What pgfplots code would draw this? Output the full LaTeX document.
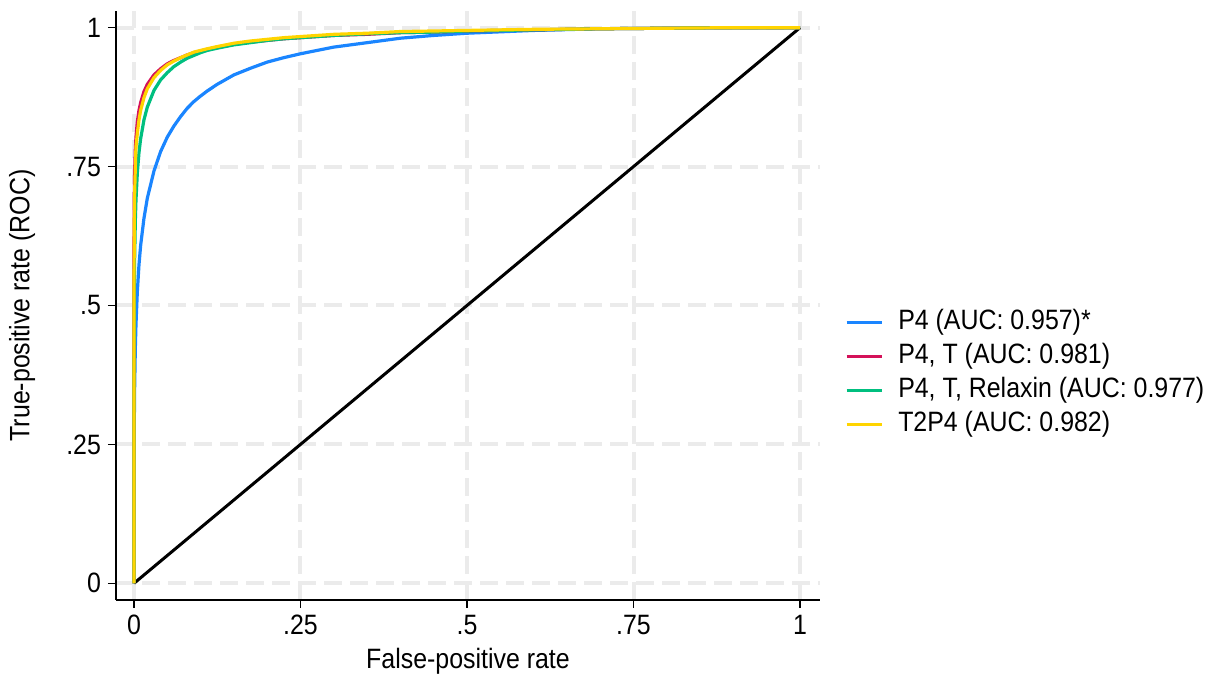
\documentclass[border=0pt]{standalone}
\usepackage{fontspec}
\setmainfont{Liberation Sans}[FakeStretch=0.89]
\usepackage{pgfplots}
\usepackage{pgfplotstable}
\pgfplotsset{compat=1.18}

\definecolor{stblue}{RGB}{26,133,255}
\definecolor{stred}{RGB}{212,17,89}
\definecolor{stgreen}{RGB}{0,191,127}
\definecolor{styellow}{RGB}{255,212,0}
\definecolor{gridgray}{RGB}{235,235,235}

% ROC points: false-positive rate vs true-positive rate
\pgfplotstableread{
fpr     blue   red    green  yellow
0       0      0      0      0
0.0001  0.181  0.606  0.382  0.543
0.0005  0.292  0.700  0.520  0.654
0.001   0.353  0.741  0.586  0.702
0.002   0.422  0.780  0.652  0.749
0.003   0.466  0.803  0.690  0.786
0.005   0.524  0.830  0.738  0.809
0.0075  0.573  0.851  0.775  0.834
0.01    0.608  0.865  0.800  0.851
0.015   0.657  0.885  0.834  0.874
0.02    0.693  0.898  0.857  0.890
0.03    0.742  0.915  0.887  0.910
0.04    0.777  0.926  0.906  0.923
0.05    0.803  0.935  0.919  0.933
0.06    0.823  0.941  0.930  0.940
0.07    0.840  0.946  0.938  0.946
0.08    0.855  0.951  0.945  0.951
0.09    0.867  0.955  0.950  0.956
0.1     0.877  0.958  0.955  0.959
0.11    0.886  0.961  0.959  0.962
0.125   0.898  0.965  0.963  0.966
0.15    0.915  0.970  0.969  0.972
0.175   0.927  0.974  0.973  0.976
0.2     0.938  0.977  0.977  0.979
0.225   0.946  0.980  0.980  0.982
0.25    0.953  0.982  0.982  0.984
0.3     0.965  0.986  0.986  0.988
0.35    0.973  0.988  0.989  0.990
0.4     0.981  0.991  0.991  0.993
0.45    0.986  0.992  0.992  0.994
0.5     0.990  0.994  0.994  0.995
0.6     0.995  0.996  0.996  0.997
0.7     0.998  0.998  0.998  0.998
0.8     0.999  0.999  0.999  0.999
0.9     1.000  1.000  1.000  1.000
1       1      1      1      1
}\roc

\begin{document}
\begin{tikzpicture}
\begin{axis}[
    scale only axis,
    width=352pt, height=294.5pt,
    xmin=-0.027, xmax=1.03,
    ymin=-0.03, ymax=1.03,
    axis x line=bottom, axis y line=left,
    axis line style={-, line width=0.6pt},
    xtick={0,0.25,0.5,0.75,1}, xticklabels={0,.25,.5,.75,1},
    ytick={0,0.25,0.5,0.75,1}, yticklabels={0,.25,.5,.75,1},
    tick align=outside, major tick length=4pt,
    tick style={black, line width=0.6pt},
    grid=major,
    major grid style={gridgray, line width=2pt, dash pattern=on 9pt off 4pt},
    font=\fontsize{14}{16}\selectfont,
    /pgf/number format/assume math mode=true,
    xlabel={False-positive rate},
    ylabel={True-positive rate (ROC)},
    xlabel style={at={(axis description cs:0.5,-0.104)}, anchor=center},
    ylabel style={at={(axis description cs:-0.1335,0.5)}, anchor=center},
    legend style={
        at={(1.035,0.385)}, anchor=west,
        draw=none, fill=none, inner sep=0pt,
        row sep=4.5pt, column sep=7.5pt,
        nodes={inner sep=0pt, text height=10pt, text depth=2.5pt},
        cells={anchor=west},
        font=\fontsize{14}{16}\selectfont,
    },
    legend image code/.code={\draw[#1] (0pt,0pt) -- (17.5pt,0pt);},
]

\addplot[black, line width=1.5pt, forget plot] coordinates {(0,0) (1,1)};

\addplot[stblue, line width=1.6pt] table[x=fpr, y=blue] {\roc};
\addplot[stred, line width=1.6pt] table[x=fpr, y=red] {\roc};
\addplot[stgreen, line width=1.6pt] table[x=fpr, y=green] {\roc};
\addplot[styellow, line width=1.6pt] table[x=fpr, y=yellow] {\roc};

\legend{P4 (AUC: 0.957)*, {P4, T (AUC: 0.981)}, {P4, T, Relaxin (AUC: 0.977)}, T2P4 (AUC: 0.982)}
\end{axis}
\path ([xshift=-58pt,yshift=-38.5pt]current axis.south west)
    rectangle ([xshift=197pt,yshift=5.5pt]current axis.north east);
\end{tikzpicture}
\end{document}
